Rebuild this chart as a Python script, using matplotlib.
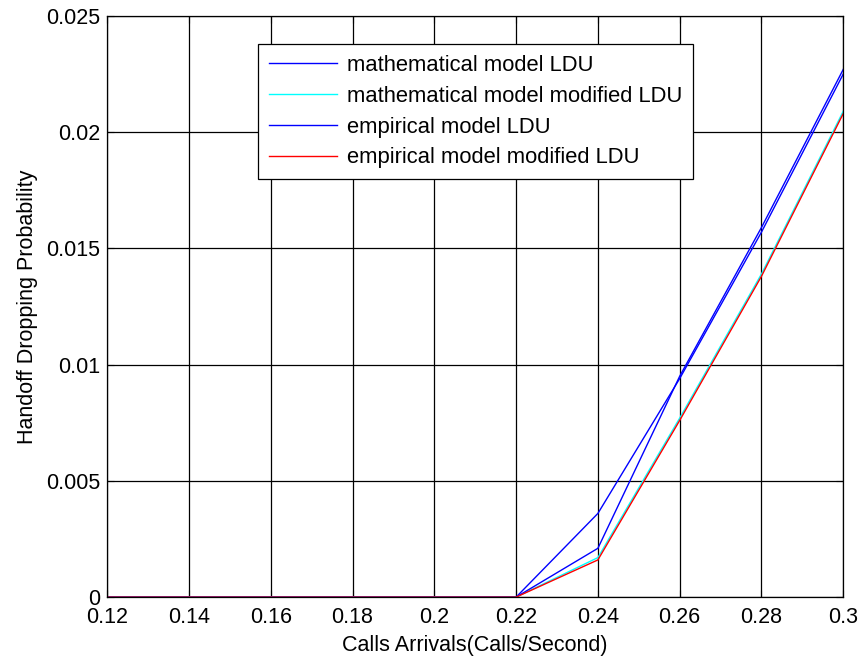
import numpy as np
import matplotlib as mpl
import matplotlib.pyplot as plt

mpl.rcParams.update({
    "font.family": "Liberation Sans", "font.size": 15.5,
    "xtick.direction": "in", "ytick.direction": "in",
})

arrivals = [0.12, 0.14, 0.16, 0.18, 0.20, 0.22, 0.24, 0.26, 0.28, 0.30]
math_ldu = [0, 0, 0, 0, 0, 0, 0.0036, 0.0094, 0.0157, 0.0225]
math_mod = [0, 0, 0, 0, 0, 0, 0.0017, 0.0077, 0.0139, 0.0209]
emp_ldu = [0, 0, 0, 0, 0, 0, 0.0021, 0.0095, 0.0159, 0.0227]
emp_mod = [0, 0, 0, 0, 0, 0, 0.0016, 0.0076, 0.0138, 0.0208]

xticks = [0.12, 0.14, 0.16, 0.18, 0.2, 0.22, 0.24, 0.26, 0.28, 0.3]
xtick_labels = ["0.12", "0.14", "0.16", "0.18", "0.2", "0.22", "0.24", "0.26", "0.28", "0.3"]
yticks = [0, 0.005, 0.01, 0.015, 0.02, 0.025]
ytick_labels = ["0", "0.005", "0.01", "0.015", "0.02", "0.025"]

fig = plt.figure(figsize=(8.64, 6.62), dpi=100)
ax = fig.add_axes([0.124, 0.098, 0.852, 0.878])

ax.plot(arrivals, math_ldu, color="#0000ff", lw=1.0, label="mathematical model LDU")
ax.plot(arrivals, math_mod, color="#00ffff", lw=1.0, label="mathematical model modified LDU")
ax.plot(arrivals, emp_ldu, color="#0000ff", lw=1.0, label="empirical model LDU")
ax.plot(arrivals, emp_mod, color="#ff0000", lw=1.0, label="empirical model modified LDU")

ax.set_xlim(0.12, 0.3)
ax.set_ylim(0, 0.025)
ax.set_xticks(xticks)
ax.set_xticklabels(xtick_labels)
ax.set_yticks(yticks)
ax.set_yticklabels(ytick_labels)
ax.tick_params(length=5, width=0.8, labelsize=15.5, top=True, right=True)
ax.tick_params(axis="x", pad=7)
ax.tick_params(axis="y", pad=5)
ax.grid(True, color="black", lw=0.9)
for s in ax.spines.values():
    s.set_linewidth(0.9)

ax.set_xlabel("Calls Arrivals(Calls/Second)", fontsize=15.5, labelpad=5)
ax.set_ylabel("Handoff Dropping Probability", fontsize=15.5, labelpad=6)

leg = ax.legend(loc="upper left", bbox_to_anchor=(0.205, 0.952), borderaxespad=0,
                fontsize=15.8, frameon=True, fancybox=False, edgecolor="black",
                framealpha=1, handlelength=3.1, handletextpad=0.45,
                borderpad=0.5, labelspacing=0.45)
leg.get_frame().set_linewidth(0.9)

fig.savefig("out.png", dpi=100)
